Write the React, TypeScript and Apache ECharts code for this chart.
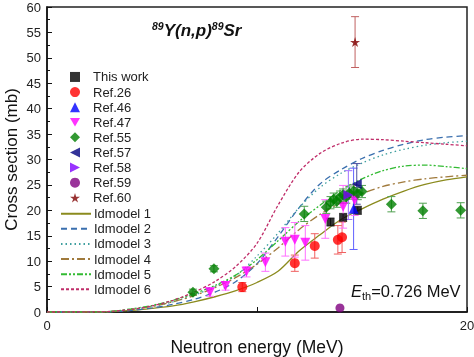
import React, { useEffect, useRef } from "react";
import * as echarts from "echarts";

// [energy MeV, cross section mb, error]
const thisWork = [[13.5, 17.7, 0.8], [14.1, 18.6, 0.8], [14.8, 20.0, 0.8]];
const ref26 = [[9.3, 4.9, 0.9], [11.8, 9.6, 1.6], [12.75, 13.0, 2.4], [13.85, 14.2, 2.8], [14.05, 14.7, 3.0]];
const ref46 = [[14.6, 20.3, 8.0]];
const ref47 = [[7.76, 3.9, 0.8], [8.5, 5.1, 0.8], [9.5, 7.9, 1.0], [10.4, 9.8, 1.8], [11.35, 13.8, 2.8], [11.8, 14.2, 3.4], [12.3, 13.6, 3.4], [13.25, 18.3, 3.8], [14.1, 20.7, 4.2], [14.65, 22.0, 3.0]];
const ref55 = [[6.95, 3.9, 0.6], [7.95, 8.5, 0.6], [12.25, 19.3, 1.5], [13.3, 20.6, 1.2], [13.5, 21.5, 1.2], [13.65, 22.2, 1.2], [13.8, 21.8, 1.2], [13.95, 22.6, 1.2], [14.1, 23.0, 1.2], [14.25, 22.6, 1.2], [14.4, 23.4, 1.2], [14.6, 23.8, 1.2], [14.8, 23.3, 1.2], [15.0, 23.7, 1.2], [16.4, 21.2, 1.5], [17.9, 19.9, 1.5], [19.7, 20.0, 1.5]];
const ref57 = [[14.75, 25.2, 4.0]];
const ref58 = [[14.35, 23.0, 4.8]];
const ref59 = [[13.95, 0.8, 0]];
const ref60 = [[14.67, 53.1, 5.0]];

const modelE = [0, 1, 2, 3, 4, 5, 6, 7, 8, 9, 10, 11, 12, 13, 14, 15, 16, 17, 18, 19, 20];
const model1 = [0, 0, 0, 0.05, 0.3, 0.7, 1.2, 2.0, 3.0, 4.2, 5.8, 8.0, 12.0, 15.2, 18.2, 20.3, 22.2, 23.8, 25.1, 26.0, 26.6];
const model2 = [0, 0, 0, 0.05, 0.3, 0.8, 1.5, 2.5, 3.9, 6.0, 9.5, 14.8, 20.5, 25.2, 28.0, 30.2, 31.8, 33.0, 33.9, 34.4, 34.7];
const model3 = [0, 0, 0, 0.1, 0.5, 1.1, 2.0, 3.3, 5.0, 7.2, 11.0, 15.5, 20.5, 24.5, 27.3, 29.3, 30.9, 32.0, 32.8, 33.3, 33.6];
const model4 = [0, 0, 0, 0.1, 0.5, 1.1, 2.0, 3.2, 4.8, 6.8, 9.4, 12.6, 16.2, 19.2, 21.5, 23.3, 24.7, 25.6, 26.2, 26.6, 26.9];
const model5 = [0, 0, 0, 0.1, 0.6, 1.3, 2.3, 3.6, 5.2, 7.3, 10.3, 14.0, 17.8, 21.0, 24.0, 26.2, 27.8, 28.7, 28.9, 28.6, 28.2];
const model6 = [0, 0, 0, 0.1, 0.5, 1.2, 2.3, 3.9, 6.0, 9.0, 13.5, 21.0, 27.5, 31.2, 33.2, 34.0, 33.9, 33.6, 33.3, 33.0, 32.7];

const xTicks = [0, 10, 20];
const xLabelsShown = ["0", "", "20"];

const STAR = "path://M50,0 L61,35 L98,35 L68,57 L79,91 L50,70 L21,91 L32,57 L2,35 L39,35 Z";
const TRI_DOWN = "path://M0,0 L12,0 L6,10 Z";
const TRI_LEFT = "path://M10,0 L10,10 L0,5 Z";
const TRI_RIGHT = "path://M0,0 L10,5 L0,10 Z";

const scatterDefs = [
  { name: "This work", data: thisWork, symbol: "rect", size: 8, color: "#000000", err: "#555555" },
  { name: "Ref.26", data: ref26, symbol: "circle", size: 10, color: "#ff0000", err: "#f06060" },
  { name: "Ref.46", data: ref46, symbol: "triangle", size: 10, color: "#0000ff", err: "#6060ff" },
  { name: "Ref.47", data: ref47, symbol: TRI_DOWN, size: 10, color: "#ff00ff", err: "#ff70ff" },
  { name: "Ref.55", data: ref55, symbol: "diamond", size: 11, color: "#008000", err: "#50a050" },
  { name: "Ref.57", data: ref57, symbol: TRI_LEFT, size: 10, color: "#000080", err: "#5050a0" },
  { name: "Ref.58", data: ref58, symbol: TRI_RIGHT, size: 10, color: "#8000ff", err: "#a070ff" },
  { name: "Ref.59", data: ref59, symbol: "circle", size: 9, color: "#800080", err: "#a050a0" },
  { name: "Ref.60", data: ref60, symbol: STAR, size: 10, color: "#800000", err: "#c06060" },
];

const lineDefs = [
  { name: "Idmodel 1", data: model1, color: "#8b8b1e", type: "solid" as any },
  { name: "Idmodel 2", data: model2, color: "#3a6fae", type: [6, 4] },
  { name: "Idmodel 3", data: model3, color: "#3f9f9f", type: [1.5, 3] },
  { name: "Idmodel 4", data: model4, color: "#a07a3c", type: [8, 3, 2, 3] },
  { name: "Idmodel 5", data: model5, color: "#33bb33", type: [6, 2, 2, 2, 2, 2] },
  { name: "Idmodel 6", data: model6, color: "#c02e6a", type: [3, 2] },
];

const FONT = "Liberation Sans, Arial";

export default function App() {
  const ref = useRef<HTMLDivElement>(null);
  useEffect(() => {
    if (!ref.current) return;
    const chart = echarts.init(ref.current, null, { renderer: "svg" });
    const series: any[] = [];
    lineDefs.forEach((l) => {
      series.push({
        type: "line",
        name: l.name,
        data: modelE.map((e, i) => [e, l.data[i]]),
        smooth: 0.3,
        symbol: "none",
        lineStyle: { color: l.color, width: 1.3, type: l.type },
        itemStyle: { color: l.color },
        z: 2,
      });
    });
    scatterDefs.forEach((s) => {
      series.push({
        type: "custom",
        name: s.name + " err",
        data: s.data.filter((d) => d[2] > 0).map((d) => [d[0], d[1] - d[2], d[1] + d[2]]),
        encode: { x: 0, y: [1, 2] },
        silent: true,
        z: 3,
        renderItem: (params: any, api: any) => {
          const lo = api.coord([api.value(0), api.value(1)]);
          const hi = api.coord([api.value(0), api.value(2)]);
          const w = 4;
          const st = { stroke: s.err, lineWidth: 1 };
          return {
            type: "group",
            children: [
              { type: "line", shape: { x1: lo[0], y1: lo[1], x2: hi[0], y2: hi[1] }, style: st },
              { type: "line", shape: { x1: lo[0] - w, y1: lo[1], x2: lo[0] + w, y2: lo[1] }, style: st },
              { type: "line", shape: { x1: hi[0] - w, y1: hi[1], x2: hi[0] + w, y2: hi[1] }, style: st },
            ],
          };
        },
      });
    });
    scatterDefs.forEach((s) => {
      series.push({
        type: "scatter",
        name: s.name,
        data: s.data.map((d) => [d[0], d[1]]),
        symbol: s.symbol,
        symbolSize: s.size,
        itemStyle: { color: s.color },
        z: 4,
      });
    });

    const step = 15.2;
    const rowH = 13.1;
    const legendText = { fontFamily: FONT, fontSize: 13, color: "#222" };
    chart.setOption({
      animation: false,
      grid: { left: 47, right: 7, top: 7, bottom: 45, outerBoundsMode: "none", containLabel: false, show: true, borderColor: "#222", borderWidth: 1.5, backgroundColor: "transparent" },
      xAxis: {
        type: "value",
        min: 0,
        max: 20,
        interval: 10,
        name: "Neutron energy (MeV)",
        nameLocation: "middle",
        nameGap: 26,
        nameMoveOverlap: false,
        nameTextStyle: { fontFamily: FONT, fontSize: 17.5, color: "#111" },
        axisLine: { lineStyle: { color: "#111", width: 1.5 } },
        axisTick: { inside: true, length: 5, lineStyle: { color: "#111" } },
        splitLine: { show: false },
        axisLabel: {
          margin: 7,
          fontFamily: FONT,
          fontSize: 13,
          color: "#222",
          formatter: (v: number) => xLabelsShown[xTicks.indexOf(v)] ?? "",
        },
      },
      yAxis: {
        type: "value",
        min: 0,
        max: 60,
        interval: 5,
        name: "Cross section (mb)",
        nameLocation: "middle",
        nameGap: 27,
        nameMoveOverlap: false,
        nameTextStyle: { fontFamily: FONT, fontSize: 17, color: "#111" },
        axisLine: { lineStyle: { color: "#111", width: 1.5 } },
        axisTick: { inside: true, length: 5, lineStyle: { color: "#111" } },
        minorTick: { show: true, splitNumber: 2, length: 3, lineStyle: { color: "#111" } },
        splitLine: { show: false },
        axisLabel: { margin: 6, fontFamily: FONT, fontSize: 13, color: "#222" },
      },
      legend: [
        {
          orient: "vertical",
          left: 70,
          top: 77 - rowH / 2,
          itemWidth: 10,
          itemHeight: 10,
          itemGap: step - rowH,
          padding: 0,
          data: scatterDefs.map((s) => s.name),
          textStyle: { ...legendText, padding: [0, 0, 0, 8] },
        },
        {
          orient: "vertical",
          left: 60,
          top: 77 + step * 9 - rowH / 2,
          itemWidth: 30,
          itemHeight: 10,
          itemGap: step - rowH,
          padding: 0,
          itemStyle: { opacity: 0 },
          data: lineDefs.map((l) => l.name),
          textStyle: { ...legendText, padding: [0, 0, 0, -2] },
        },
      ],
      graphic: [
        {
          type: "text",
          left: 152,
          top: 20,
          style: {
            text: "{s|89}{m|Y(n,p)}{s|89}{m|Sr}",
            rich: {
              m: { fontFamily: FONT, fontSize: 17, fontWeight: "bold", fontStyle: "italic", fill: "#111", lineHeight: 20 },
              s: { fontFamily: FONT, fontSize: 10.5, fontWeight: "bold", fontStyle: "italic", fill: "#111", verticalAlign: "top", lineHeight: 20 },
            },
          },
        },
        {
          type: "text",
          left: 351,
          top: 282,
          style: {
            text: "{e|E}{b|th}{n|=0.726 MeV}",
            rich: {
              e: { fontFamily: FONT, fontSize: 16.5, fontStyle: "italic", fill: "#111", lineHeight: 22 },
              b: { fontFamily: FONT, fontSize: 11, fill: "#111", verticalAlign: "bottom", lineHeight: 22 },
              n: { fontFamily: FONT, fontSize: 16.5, fill: "#111", lineHeight: 22 },
            },
          },
        },
      ],
      series,
    });
    return () => chart.dispose();
  }, []);
  return <div ref={ref} style={{ position: "fixed", left: 0, top: 0, width: 474, height: 357 }} />;
}
